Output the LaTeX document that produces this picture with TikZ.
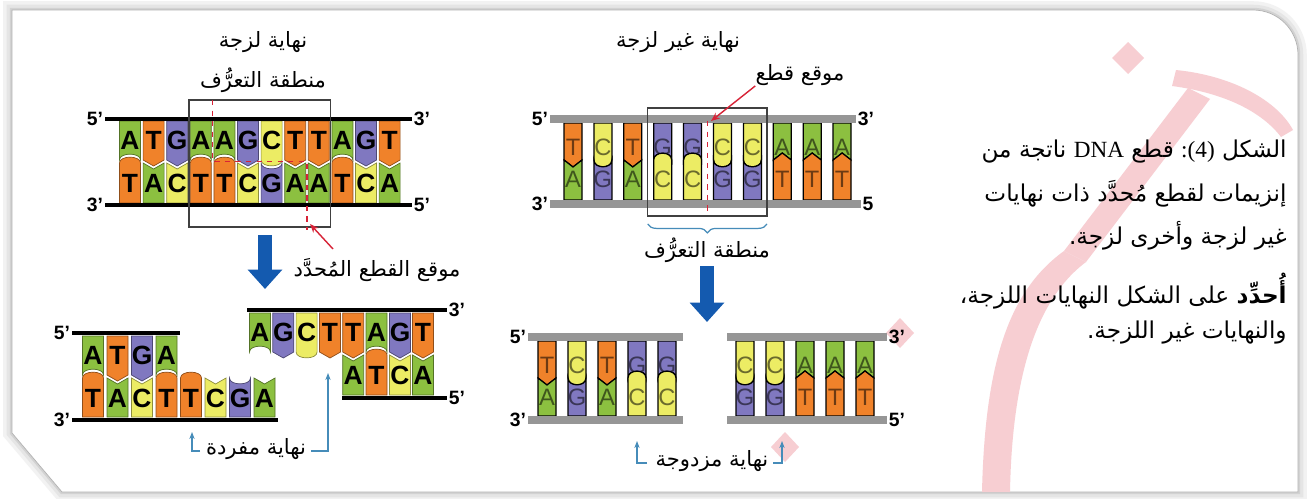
\documentclass[tikz,border=0pt]{standalone}
\usepackage{fontspec}
\usepackage{xcolor}
\usetikzlibrary{arrows.meta,decorations.pathreplacing}
\setmainfont{Liberation Sans}
\newfontfamily\arabicfont[Script=Arabic]{DejaVu Sans}
\newfontfamily\latinserif{Liberation Serif}
\TeXXeTstate=1

\definecolor{baseA}{RGB}{140,192,64}
\definecolor{baseT}{RGB}{240,130,42}
\definecolor{baseG}{RGB}{128,120,192}
\definecolor{baseC}{RGB}{236,236,100}
\definecolor{cutred}{RGB}{215,35,55}
\definecolor{arrowblue}{RGB}{20,90,175}
\definecolor{markblue}{RGB}{70,140,185}
\definecolor{bargray}{RGB}{150,150,150}
\definecolor{wmark}{RGB}{247,206,210}

\tikzset{
  tile/.style={fill=#1, draw=#1!60!black, line width=0.4pt},
  letter/.style={inner sep=0pt, font=\bfseries\fontsize{15}{15}\selectfont, text=black},
  strand/.style={line width=2.3pt, black},
  bar/.style={line width=4.5pt, bargray},
  end label/.style={inner sep=1pt, font=\bfseries\fontsize{11}{11}\selectfont},
  ar/.style={inner sep=0pt, font=\arabicfont\fontsize{12}{14}\selectfont},
  caption/.style={inner sep=0pt, anchor=east, font=\arabicfont\fontsize{13.2}{16}\selectfont},
  cutline/.style={cutred, dashed, line width=0.8pt},
  region/.style={draw=black!75, line width=0.6pt},
  down arrow/.style={arrowblue, line width=8pt, -{Triangle[width=19pt,length=11pt]}},
  mark arrow/.style={markblue, line width=0.7pt, -{Stealth[length=4pt,width=3pt]}},
  cut arrow/.style={cutred, line width=0.8pt, -{Stealth[length=5pt,width=4pt]}},
}

% half width of a base tile and the two kinds of pairing edge
\newcommand{\hw}{10.5}
\newcommand{\edgep}[3]{-- (#1,{#2+(#3)}) -- (#1+\hw,#2)}
\newcommand{\edger}[3]{.. controls (#1-\hw,{#2+1.3*(#3)}) and (#1+\hw,{#2+1.3*(#3)}) .. (#1+\hw,#2)}
% x, base, edge, bulge
\newcommand{\toptile}[4]{%
  \filldraw[tile=base#2] (#1-\hw,\yA) -- (#1-\hw,\yB) #3{#1}{\yB}{#4} -- (#1+\hw,\yA) -- cycle;
  \node[letter=base#2] (b#2) at (#1,\yB-\lt) {#2};}
\newcommand{\bottile}[4]{%
  \filldraw[tile=base#2] (#1-\hw,\yD) -- (#1-\hw,\yC) #3{#1}{\yC}{#4} -- (#1+\hw,\yD) -- cycle;
  \node[letter=base#2] (b#2) at (#1,\yC+\lb) {#2};}
\newcommand{\bpair}[5]{\toptile{#1}{#2}{#4}{#5}\bottile{#1}{#3}{#4}{#5}}

\newcommand{\framepath}{(12,10) -- (1253,10) .. controls (1278,10) and (1298,30) .. (1298,55) -- (1298,492) -- (62,492) -- (12,433) -- cycle}

\begin{document}
\begin{tikzpicture}[x=0.02cm, y=-0.02cm]
  \useasboundingbox (0,0) rectangle (1311,498);
  \fill[white] (0,0) rectangle (1311,498);
  % page frame and its shadow
  \draw[gray!10, line width=10pt] \framepath;
  \draw[gray!20, line width=6pt] \framepath;
  \draw[gray!35, line width=2.5pt] \framepath;
  \filldraw[fill=white, draw=gray!60, line width=0.4pt] \framepath;

  % watermark
  \fill[wmark] (1128,42) -- (1144,58) -- (1128,74) -- (1112,58) -- cycle;
  \fill[wmark] (1176,70) .. controls (1235,76) and (1278,102) .. (1293,130) -- (1281,137) .. controls (1262,112) and (1225,93) .. (1172,86) -- cycle;
  \fill[wmark] (1188,88) -- (1210,99) -- (1086,262) -- (1064,251) -- cycle;
  \fill[wmark] (1064,251) .. controls (1010,290) and (985,360) .. (982,492) -- (1010,492) .. controls (1012,380) and (1035,300) .. (1086,262) -- cycle;
  \fill[wmark] (900,318) -- (914,333) -- (900,348) -- (886,333) -- cycle;
  \fill[wmark] (785,432) -- (799,447) -- (785,462) -- (771,447) -- cycle;

  % ---- sticky ends: whole molecule ----
  \def\yA{121}\def\yB{160}\def\yC{163}\def\yD{203}\def\lt{20}\def\lb{20}
  \bpair{130}{A}{T}{\edger}{-6}
  \bpair{153.6}{T}{A}{\edgep}{6}
  \bpair{177.2}{G}{C}{\edgep}{6}
  \bpair{200.8}{A}{T}{\edger}{-6}
  \bpair{224.4}{A}{T}{\edger}{-6}
  \bpair{248}{G}{C}{\edgep}{6}
  \bpair{271.6}{C}{G}{\edger}{6}
  \bpair{295.2}{T}{A}{\edgep}{6}
  \bpair{318.8}{T}{A}{\edgep}{6}
  \bpair{342.4}{A}{T}{\edger}{-6}
  \bpair{366}{G}{C}{\edgep}{6}
  \bpair{389.6}{T}{A}{\edgep}{6}
  \node[end label] (s5a) at (95,119) {5'};
  \node[end label] (s3a) at (422,119) {3'};
  \node[end label] (s3b) at (95,205) {3'};
  \node[end label] (s5b) at (422,205) {5'};
  \draw[strand] (s5a) -- (s3a);
  \draw[strand] (s3b) -- (s5b);
  \draw[region] (189,100) rectangle (330.6,227);
  \draw[cutline] (212.6,100) -- (212.6,161.5) -- (307,161.5) -- (307,230);
  \node[ar] (sticky) at (263,42) {\beginR نهاية لزجة\endR};
  \node[ar] (recogL) at (263,80) {\beginR منطقة التعرُّف\endR};
  \node[ar] (siteL) at (377,270) {\beginR موقع القطع المُحدَّد\endR};
  \coordinate (siteLtail) at (333,249);
  \coordinate (siteLhead) at (310,224);
  \draw[cut arrow] (siteLtail) -- (siteLhead);
  \coordinate (flowL) at (265,235);
  \coordinate (flowLend) at (265,289);
  \draw[down arrow] (flowL) -- (flowLend);

  % ---- sticky ends: the two fragments ----
  \def\yA{336}\def\yB{375}\def\yC{378}\def\yD{417}
  \bpair{93}{A}{T}{\edger}{-6}
  \bpair{117.5}{T}{A}{\edgep}{6}
  \bpair{142}{G}{C}{\edgep}{6}
  \bpair{166.5}{A}{T}{\edger}{-6}
  \bottile{191}{T}{\edger}{-6}
  \bottile{215.5}{C}{\edgep}{6}
  \bottile{240}{G}{\edger}{6}
  \bottile{264.5}{A}{\edgep}{6}
  \node[end label] (f5a) at (62,333) {5'};
  \node[end label] (f3a) at (62,420) {3'};
  \coordinate (f1end) at (180,333);
  \coordinate (f2end) at (278,420);
  \draw[strand] (f5a) -- (f1end);
  \draw[strand] (f3a) -- (f2end);
  \def\yA{313}\def\yB{352}\def\yC{355}\def\yD{395}
  \toptile{260}{A}{\edger}{-6}
  \toptile{283.3}{G}{\edgep}{6}
  \toptile{306.6}{C}{\edger}{6}
  \toptile{330}{T}{\edgep}{6}
  \bpair{353.2}{T}{A}{\edgep}{6}
  \bpair{376.5}{A}{T}{\edger}{-6}
  \bpair{400}{G}{C}{\edgep}{6}
  \bpair{423}{T}{A}{\edgep}{6}
  \node[end label] (g3a) at (457,310) {3'};
  \node[end label] (g5a) at (457,398) {5'};
  \coordinate (g1end) at (247,310);
  \coordinate (g2end) at (342,398);
  \draw[strand] (g1end) -- (g3a);
  \draw[strand] (g2end) -- (g5a);
  \node[ar] (single) at (256,449) {\beginR نهاية مفردة\endR};
  \coordinate (sgA) at (200,451);
  \coordinate (sgB) at (192,451);
  \coordinate (sgC) at (192,432);
  \draw[mark arrow] (sgA) -- (sgB) -- (sgC);
  \coordinate (sgD) at (311,451);
  \coordinate (sgE) at (328,451);
  \coordinate (sgF) at (328,373);
  \draw[mark arrow] (sgD) -- (sgE) -- (sgF);

  % ---- blunt ends ----
  \begin{scope}[tile/.style={fill=#1, draw=black, line width=0.7pt},
      letter/.style={inner sep=0pt, font=\fontsize{13.5}{13.5}\selectfont, text=#1!45!black}]
    \def\hw{9}\def\yA{123}\def\yB{160}\def\yC{160}\def\yD{200}\def\lt{13}\def\lb{19}
    \bpair{573}{T}{A}{\edgep}{7}
    \bpair{602.9}{C}{G}{\edger}{7}
    \bpair{632.8}{T}{A}{\edgep}{7}
    \bpair{662.7}{G}{C}{\edger}{-7}
    \bpair{692.6}{G}{C}{\edger}{-7}
    \bpair{722.5}{C}{G}{\edger}{7}
    \bpair{752.4}{C}{G}{\edger}{7}
    \bpair{782.3}{A}{T}{\edgep}{-7}
    \bpair{812.2}{A}{T}{\edgep}{-7}
    \bpair{842.1}{A}{T}{\edgep}{-7}
    \def\yA{341}\def\yB{378}\def\yC{378}\def\yD{416}
    \bpair{547}{T}{A}{\edgep}{7}
    \bpair{577}{C}{G}{\edger}{7}
    \bpair{607}{T}{A}{\edgep}{7}
    \bpair{637}{G}{C}{\edger}{-7}
    \bpair{667}{G}{C}{\edger}{-7}
    \bpair{745}{C}{G}{\edger}{7}
    \bpair{775}{C}{G}{\edger}{7}
    \bpair{805}{A}{T}{\edgep}{-7}
    \bpair{835}{A}{T}{\edgep}{-7}
    \bpair{865}{A}{T}{\edgep}{-7}
  \end{scope}
  \node[end label] (m5a) at (540,119) {5'};
  \node[end label] (m3a) at (866,119) {3'};
  \node[end label] (m3b) at (540,204) {3'};
  \node[end label] (m5b) at (868,204) {5};
  \draw[bar] (m5a) -- (m3a);
  \draw[bar] (m3b) -- (m5b);
  \draw[region] (647.7,108) rectangle (767,216);
  \draw[cutline] (707.5,121) -- (707.5,212);
  \draw[markblue, line width=0.7pt, decorate, decoration={brace, mirror, amplitude=5pt}] (647.7,224) -- (767,224);
  \node[ar] (blunt) at (678,42) {\beginR نهاية غير لزجة\endR};
  \node[ar] (cutsite) at (800,75) {\beginR موقع قطع\endR};
  \coordinate (cutpt) at (711,121);
  \draw[cut arrow] (cutsite.south west) -- (cutpt);
  \node[ar] (recogM) at (707,250) {\beginR منطقة التعرُّف\endR};
  \coordinate (flowM) at (707,266);
  \coordinate (flowMend) at (707,322);
  \draw[down arrow] (flowM) -- (flowMend);

  \node[end label] (n5a) at (518,337) {5'};
  \node[end label] (n3a) at (518,420) {3'};
  \coordinate (n1end) at (683,337);
  \coordinate (n2end) at (683,420);
  \draw[bar] (n5a) -- (n1end);
  \draw[bar] (n3a) -- (n2end);
  \node[end label] (p3a) at (897,337) {3'};
  \node[end label] (p5a) at (897,420) {5'};
  \coordinate (p1end) at (727,337);
  \coordinate (p2end) at (727,420);
  \draw[bar] (p1end) -- (p3a);
  \draw[bar] (p2end) -- (p5a);
  \node[ar] (double) at (712,461) {\beginR نهاية مزدوجة\endR};
  \coordinate (dbA) at (647,463);
  \coordinate (dbB) at (637,463);
  \coordinate (dbC) at (637,441);
  \draw[mark arrow] (dbA) -- (dbB) -- (dbC);
  \coordinate (dbD) at (773,463);
  \coordinate (dbE) at (782,463);
  \coordinate (dbF) at (782,441);
  \draw[mark arrow] (dbD) -- (dbE) -- (dbF);

  % ---- caption ----
  \node[caption] (cap1) at (1287,152) {\beginR الشكل \beginL{\latinserif :(4)}\endL{} قطع \beginL{\latinserif DNA}\endL{} ناتجة من\endR};
  \node[caption] (cap2) at (1287,194) {\beginR إنزيمات لقطع مُحدَّد ذات نهايات\endR};
  \node[caption] (cap3) at (1287,236) {\beginR غير لزجة وأخرى لزجة.\endR};
  \node[caption] (cap4) at (1287,291) {\beginR\textbf{أُحدِّد} على الشكل النهايات اللزجة،\endR};
  \node[caption] (cap5) at (1287,333) {\beginR والنهايات غير اللزجة.\endR};
\end{tikzpicture}
\end{document}
